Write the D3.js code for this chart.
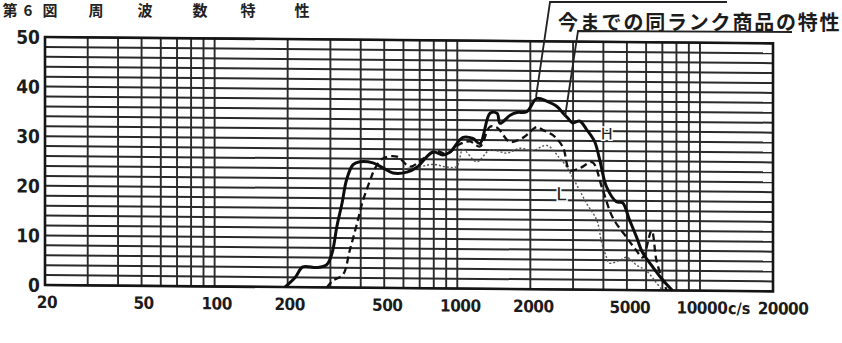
<!DOCTYPE html>
<html><head><meta charset="utf-8">
<script src="https://cdn.jsdelivr.net/npm/d3@7"></script>
<style>body{margin:0;background:#fff;} svg{display:block}</style>
</head><body><svg id="c" width="842" height="343"></svg>
<script>
const yTicks=[0,10,20,30,40,50];
const yGrid=d3.range(0,51,2);
const xTickLabels=[20,50,100,200,500,1000,2000,5000,10000,20000];
const xGrid=[20,30,40,50,60,70,80,90,100,200,300,400,500,600,700,800,900,1000,2000,3000,4000,5000,6000,7000,8000,9000,10000,20000];
const titleChars=["第","6","図","周","波","数","特","性"];
const noteText="今までの同ランク商品の特性";

// thick solid curve
const solidF=[195,215,231,264,290,305,319,335,350,372,397,449,494,543,620,682,794,872,932,1056,1160,1240,1364,1460,1500,1646,1760,1934,2127,2344,2574,2724,2852,2990,3190,3412,3680,3860,4120,4530,4800,5120,5470,5800,6370,7000,7700];
const solidDb=[0,2,4.1,4,4.6,7,12.3,17,21.8,24.8,25.4,25.2,24.2,23.2,23.4,24.4,27.5,26.9,27.5,30.5,30.3,29.3,35.4,35.4,33.4,35,35.6,35.8,38.5,37.9,36.9,35.6,34.6,33.6,34,32.3,29.9,26.3,20.8,17.8,17.6,14.2,10.8,7.6,4.8,2.2,0];
// dashed curve
const dashF=[290,307,338,360,385,408,436,458,494,564,639,722,822,904,1023,1126,1240,1364,1460,1646,1862,2127,2256,2478,2724,2906,3200,3600,3950,4370,4990,5470,5800,6320,6620,7000,7300];
const dashDb=[0,1.4,2.6,7.4,12.7,17.5,21.5,24.1,26.1,26.5,24.5,26.1,27.7,27.1,29.1,29.7,28.7,32.7,32.5,29.7,30.5,32.7,32.1,31.1,28.7,24.1,24.5,25.7,20.6,14.6,10.6,8,6.6,12,6,2.2,0];
// thin dotted curve (L)
const dotF=[600,700,800,900,994,1056,1202,1364,1602,1812,2046,2344,2630,2800,2990,3412,3760,3940,4120,4230,4680,4990,5500,6000,6500,7000];
const dotDb=[24,24.5,25,24.5,24.6,28,25.6,28,27.4,28.4,28,29,26.6,25,22.6,17.4,14,9.4,6.6,5.4,6,6.6,5,4,2,0];

const svg=d3.select("#c");
const W=728,H=248;
const x=d3.scaleLog().domain([20,20000]).range([0,W]);
const y=d3.scaleLinear().domain([0,50]).range([H,0]);
const g=svg.append("g").attr("transform","translate(45,37) skewY(0.5)");
const gridCol="#2a2a2a";
g.selectAll(".hg").data(yGrid).join("line")
 .attr("x1",0).attr("x2",W).attr("y1",d=>y(d)).attr("y2",d=>y(d))
 .attr("stroke",gridCol).attr("stroke-width",2);
g.selectAll(".vg").data(xGrid).join("line")
 .attr("y1",0).attr("y2",H).attr("x1",d=>x(d)).attr("x2",d=>x(d))
 .attr("stroke",gridCol).attr("stroke-width",1.9);
g.append("rect").attr("x",0).attr("y",0).attr("width",W).attr("height",H)
 .attr("fill","none").attr("stroke","#151515").attr("stroke-width",2.6);

const lab="'DejaVu Sans Condensed','DejaVu Sans',sans-serif";
g.selectAll(".yl").data(yTicks).join("text")
 .attr("x",-5).attr("y",d=>y(d)+7).attr("text-anchor","end")
 .attr("font-family",lab).attr("font-weight","bold").attr("font-size",19)
 .attr("fill","#1c1c1c").text(d=>d);
g.selectAll(".xl").data(xTickLabels).join("text")
 .attr("x",d=>x(d)+(d===20000?10:(d>=500&&d<10000?3:2))).attr("y",H+23).attr("text-anchor","middle")
 .attr("font-family",lab).attr("font-weight","bold").attr("font-size",17)
 .attr("letter-spacing",-0.5)
 .attr("fill","#1c1c1c").text(d=>d);
g.append("text").attr("x",x(14500)).attr("y",H+23).attr("text-anchor","middle")
 .attr("font-family",lab).attr("font-weight","bold").attr("font-size",16)
 .attr("fill","#1c1c1c").text("c/s");

const line=d3.line().x(d=>x(d[0])).y(d=>y(d[1])).curve(d3.curveCatmullRom.alpha(0.5));
g.append("path").datum(d3.zip(dotF,dotDb)).attr("d",line)
 .attr("fill","none").attr("stroke","#555").attr("stroke-width",1.4).attr("stroke-dasharray","2,2");
g.append("path").datum(d3.zip(dashF,dashDb)).attr("d",line)
 .attr("fill","none").attr("stroke","#111").attr("stroke-width",2.3).attr("stroke-dasharray","7,4");
g.append("path").datum(d3.zip(solidF,solidDb)).attr("d",line)
 .attr("fill","none").attr("stroke","#0d0d0d").attr("stroke-width",3);

g.append("text").attr("x",x(3900)).attr("y",y(30.3)).attr("font-family","'DejaVu Sans',sans-serif")
 .attr("font-size",16).attr("fill","#222").attr("stroke","#fff").attr("stroke-width",3)
 .attr("paint-order","stroke").text("H");
g.append("text").attr("x",x(2560)).attr("y",y(18)).attr("font-family","'DejaVu Sans',sans-serif")
 .attr("font-size",18).attr("fill","#222").attr("stroke","#fff").attr("stroke-width",3)
 .attr("paint-order","stroke").text("L");

// title (at the top edge)
const tx=[10,28,50,96,145,200,248,302];
svg.selectAll(".tt").data(titleChars).join("text")
 .attr("x",(d,i)=>tx[i]).attr("y",16).attr("text-anchor","middle")
 .attr("font-family","'Noto Sans CJK JP',sans-serif").attr("font-weight","bold").attr("font-size",15)
 .attr("fill","#222").text(d=>d);

// annotation
svg.append("text").attr("x",558).attr("y",30).attr("font-family","'Noto Sans CJK JP',sans-serif")
 .attr("font-weight","bold").attr("font-size",20).attr("letter-spacing",1.8).attr("fill","#1c1c1c").text(noteText);
const ann=svg.append("g").attr("stroke","#222").attr("stroke-width",1.8).attr("fill","none");
ann.append("path").attr("d","M727,2 L550,2 L536,97");
ann.append("path").attr("d","M792,32 L578,31 L565,117");
</script></body></html>
